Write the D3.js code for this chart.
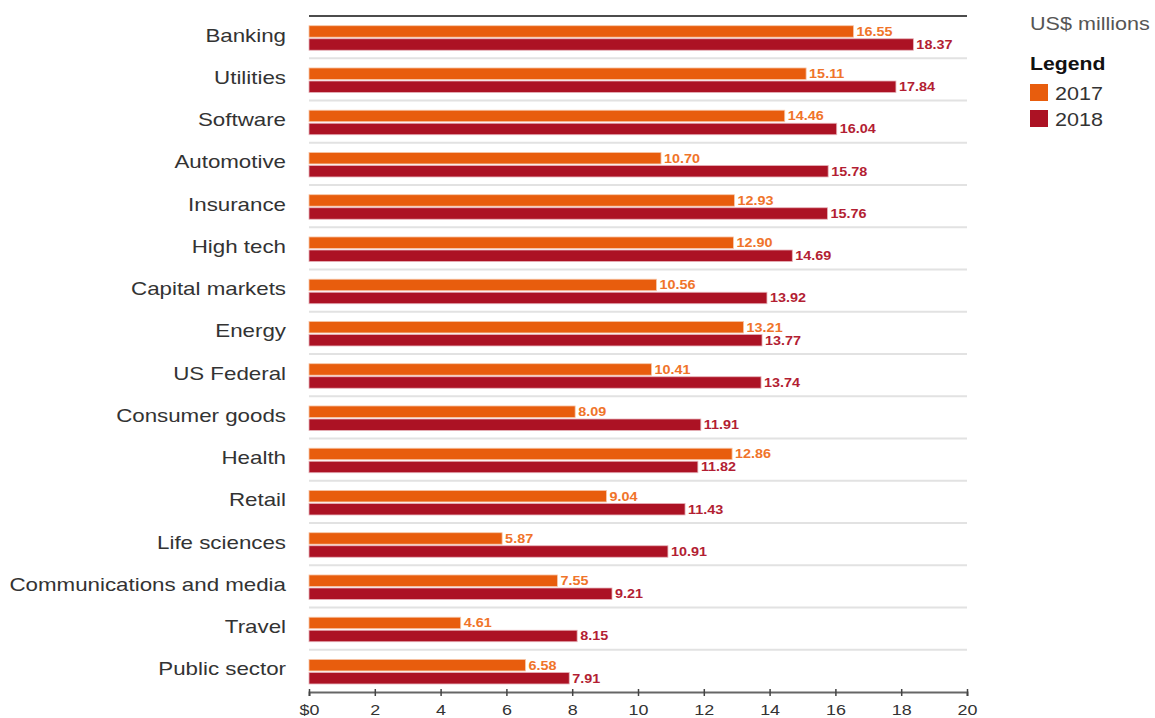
<!DOCTYPE html>
<html>
<head>
<meta charset="utf-8">
<script src="https://cdn.jsdelivr.net/npm/d3@7"></script>
<style>
  body { margin: 0; background: #fff; }
  svg text { font-family: "Liberation Sans", Arial, sans-serif; }
  .cat { font-size: 18.6px; fill: #333; }
  .val { font-weight: bold; font-size: 12px; }
  .tick-lbl { font-size: 15.4px; fill: #333; }
</style>
</head>
<body>
<div id="chart"></div>
<script>
// ── Data ────────────────────────────────────────────────────────────────
const categories = [
  'Banking', 'Utilities', 'Software', 'Automotive', 'Insurance', 'High tech',
  'Capital markets', 'Energy', 'US Federal', 'Consumer goods', 'Health',
  'Retail', 'Life sciences', 'Communications and media', 'Travel', 'Public sector'
];
const years = ['2017', '2018'];
const values2017 = [16.55, 15.11, 14.46, 10.70, 12.93, 12.90, 10.56, 13.21, 10.41, 8.09, 12.86, 9.04, 5.87, 7.55, 4.61, 6.58];
const values2018 = [18.37, 17.84, 16.04, 15.78, 15.76, 14.69, 13.92, 13.77, 13.74, 11.91, 11.82, 11.43, 10.91, 9.21, 8.15, 7.91];
const xTicks = [0, 2, 4, 6, 8, 10, 12, 14, 16, 18, 20];
const unitLabel = 'US$ millions';

// ── Styling ─────────────────────────────────────────────────────────────
const barFill   = { '2017': '#e85d0d', '2018': '#ac1224' };
const barStroke = { '2017': '#f7c6a8', '2018': '#e6b2b9' };
const valFill   = { '2017': '#f0742a', '2018': '#b31e33' };
// the source artwork is stretched horizontally; text gets the same stretch
const stretch = 1.2;

const W = 1155, H = 718;
const svg = d3.select('#chart').append('svg').attr('width', W).attr('height', H);

const x = d3.scaleLinear().domain([0, 20]).range([309, 967]);
const y = d3.scaleBand().domain(categories).range([16, 692]);
const ySub = d3.scaleBand().domain(years).range([y.bandwidth() * 0.23, y.bandwidth() * 0.81]).paddingInner(0.12);

const rows = categories.map((c, i) => ({ cat: c, '2017': values2017[i], '2018': values2018[i] }));

// Separators under each group (last one is the axis)
svg.append('g').selectAll('line').data(categories.slice(0, -1)).enter().append('line')
  .attr('x1', x(0)).attr('x2', x(20))
  .attr('y1', d => y(d) + y.bandwidth()).attr('y2', d => y(d) + y.bandwidth())
  .attr('stroke', '#e2e2e2').attr('stroke-width', 2);

// Top rule
svg.append('line').attr('x1', x(0)).attr('x2', x(20)).attr('y1', y.range()[0]).attr('y2', y.range()[0])
  .attr('stroke', '#111').attr('stroke-width', 1.6);

// Bars
const grp = svg.append('g').selectAll('g').data(rows).enter().append('g')
  .attr('transform', d => `translate(0,${y(d.cat)})`);

grp.selectAll('rect').data(d => years.map(k => ({ k, v: d[k] }))).enter().append('rect')
  .attr('x', x(0))
  .attr('y', d => ySub(d.k))
  .attr('width', d => x(d.v) - x(0))
  .attr('height', ySub.bandwidth())
  .attr('fill', d => barFill[d.k])
  .attr('stroke', d => barStroke[d.k]).attr('stroke-width', 0.8);

grp.selectAll('text.val').data(d => years.map(k => ({ k, v: d[k] }))).enter().append('text')
  .attr('class', 'val')
  .attr('transform', d => `translate(${x(d.v) + 3},${ySub(d.k) + ySub.bandwidth() / 2 + 4.5}) scale(${stretch},1)`)
  .attr('fill', d => valFill[d.k])
  .text(d => d.v.toFixed(2));

// Category labels
svg.append('g').selectAll('text').data(categories).enter().append('text')
  .attr('class', 'cat')
  .attr('transform', d => `translate(286,${y(d) + y.bandwidth() * 0.5 + 4.5}) scale(${stretch},1)`)
  .attr('text-anchor', 'end')
  .text(d => d);

// X axis
const axisY = y.range()[1];
const xAxis = svg.append('g').attr('transform', `translate(0,${axisY})`)
  .call(d3.axisBottom(x).tickValues(xTicks).tickSize(4).tickFormat(d => d === 0 ? '$0' : d));
xAxis.select('.domain').attr('stroke', '#666').attr('stroke-width', 2);
xAxis.selectAll('.tick line').attr('stroke', '#444').attr('stroke-width', 1.5).attr('y1', -3).attr('y2', 4);
xAxis.selectAll('.tick text')
  .attr('class', 'tick-lbl')
  .attr('font-size', null).attr('font-family', null)
  .attr('y', null).attr('dy', null)
  .attr('transform', `translate(0,23) scale(${stretch * 0.97},1)`);

// Legend
const leg = svg.append('g').attr('transform', 'translate(1030,0)');
leg.append('text').attr('transform', `translate(0,30) scale(1.16,1)`).attr('font-size', 18.6).attr('fill', '#555').text(unitLabel);
leg.append('text').attr('transform', `translate(0,70) scale(1.14,1)`).attr('font-size', 18.6).attr('font-weight', 'bold').attr('fill', '#111').text('Legend');
const li = leg.selectAll('g.li').data(years).enter().append('g')
  .attr('transform', (d, i) => `translate(0,${84 + i * 26})`);
li.append('rect').attr('width', 18).attr('height', 17).attr('fill', d => barFill[d]);
li.append('text').attr('transform', 'translate(25,16) scale(1.16,1)').attr('font-size', 18.6).attr('fill', '#333').text(d => d);
</script>
</body>
</html>
